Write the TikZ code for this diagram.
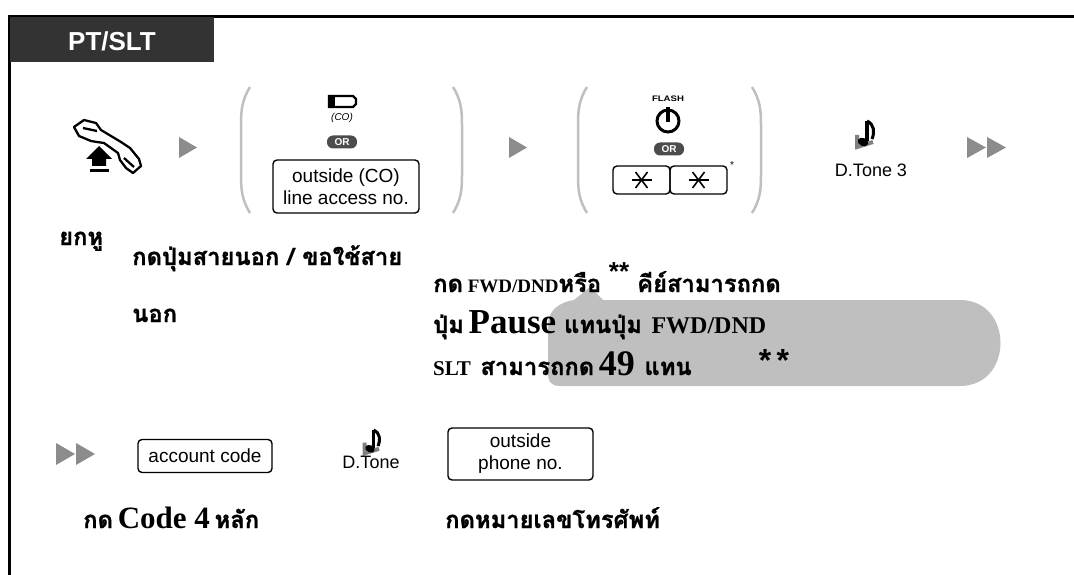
\documentclass[tikz,border=0pt]{standalone}
\usepackage{fontspec}
\setmainfont{Liberation Serif}
\setsansfont{Liberation Sans}
\newfontfamily\thai[Script=Thai,Scale=1.25,BoldFeatures={FakeBold=1}]{Loma}
\newcommand\bigtxt[2]{{\fontsize{#1}{#1}\selectfont #2}}
\begin{document}
\begin{tikzpicture}[x=1pt,y=-1pt,
  frame/.style={line width=3},
  gtri/.style={fill=black!45},
  paren/.style={draw=black!25,line width=2.5},
  keybox/.style={draw,line width=1.4,rounded corners=4,inner sep=0},
  lab/.style={font=\sffamily\fontsize{19}{22}\selectfont,align=center},
  th/.style={font=\bfseries\fontsize{19}{24}\selectfont, anchor=base west, inner sep=0},
  stars/.style={font=\sffamily\bfseries\fontsize{30}{30}\selectfont, inner sep=0},
  orpill/.style={fill=black!70, rounded corners=6, minimum width=30, minimum height=13, inner sep=0, text=white, font=\sffamily\bfseries\fontsize{10}{10}\selectfont},
  callout/.style={fill=black!25},
]
\useasboundingbox (0,0) rectangle (1074,575);

% frame and header
\draw[frame] (1074,17) -- (9.5,17) -- (9.5,575);
\fill[black!80] (9.5,17) rectangle (214,62);
\node[text=white,font=\sffamily\bfseries\fontsize{26}{26}\selectfont] (hdr) at (112,41) {PT/SLT};

% callout background
\fill[callout] (590,287) -- (603,300) -- (960,300) .. controls (1014,300) and (1014,386) .. (960,386)
  -- (560,386) .. controls (550,386) and (548,381) .. (548,371) -- (548,325)
  .. controls (548,310) and (560,302) .. (574,300) -- cycle;

% handset
\begin{scope}[line width=2.3,line join=round]
\filldraw[fill=white] (74,127) -- (84,120) -- (96,123) -- (101,130) -- (121,142) -- (130,148)
  -- (139,159) -- (141,166) -- (133,173) -- (126,168) -- (120,160) -- (118,153)
  -- (104,143) -- (97,142) -- (91,141) -- (79,136) -- cycle;
\draw (83,128) -- (97,131);
\draw (124,158) -- (134,167);
\end{scope}
\fill (99,146) -- (112,159) -- (106,159) -- (106,166) -- (92,166) -- (92,159) -- (86,159) -- cycle;
\fill (90,169) rectangle (109,172);

% first triangle
\fill[gtri] (179,137) -- (179,158) -- (197,147.5) -- cycle;

% parens group 1
\draw[paren] (250,87) .. controls (242,100) and (241,110) .. (241,125) -- (241,175) .. controls (241,190) and (242,200) .. (250,213);
\draw[paren] (453,87) .. controls (461,100) and (462,110) .. (462,125) -- (462,175) .. controls (462,190) and (461,200) .. (453,213);

% CO button
\draw[line width=2.2] (329,96) -- (353,96) -- (356,99) -- (356,104) -- (353,107) -- (329,107) -- cycle;
\fill (328,95) rectangle (335,108);
\node[font=\sffamily\itshape\fontsize{10}{10}\selectfont] (co) at (342,118) {(CO)};
\node[orpill] (or1) at (342,142) {OR};
\node[keybox,lab,minimum width=146,minimum height=53] (colan) at (346,186.5) {outside (CO)\\line access no.};

% second triangle
\fill[gtri] (509,137) -- (509,158) -- (527,147.5) -- cycle;

% parens group 2
\draw[paren] (587,87) .. controls (579,100) and (578,110) .. (578,125) -- (578,175) .. controls (578,190) and (579,200) .. (587,213);
\draw[paren] (752,87) .. controls (760,100) and (761,110) .. (761,125) -- (761,175) .. controls (761,190) and (760,200) .. (752,213);

% flash button
\node[font=\sffamily\bfseries\fontsize{8}{8}\selectfont,inner sep=0,xscale=1.2] (flash) at (668,99) {FLASH};
\draw[line width=3] (668,121) circle (11);
\draw[line width=3.5] (668,107) -- (668,122);
\node[orpill] (or2) at (669,149) {OR};
\node[keybox,minimum width=57,minimum height=28] (st1) at (641.5,180) {};
\node[keybox,minimum width=57,minimum height=28] (st2) at (698.5,180) {};
\foreach \c in {st1,st2}{
  \draw[line width=1.6] ([xshift=-10]\c.center) -- ([xshift=10]\c.center);
  \draw[line width=1.6] ([xshift=-6,yshift=-8]\c.center) -- ([xshift=6,yshift=8]\c.center);
  \draw[line width=1.6] ([xshift=6,yshift=-8]\c.center) -- ([xshift=-6,yshift=8]\c.center);
}
\node[font=\sffamily\fontsize{10}{10}\selectfont,inner sep=0] (ast) at (732,165) {*};

% tone icon 1
\begin{scope}[shift={(853,120)}]
\draw[black!50,line width=4] (4,15) -- (4,27) -- (20,22);
\fill[rotate around={-25:(10,22)}] (10,22) ellipse (5.5 and 4);
\draw[line width=3.5] (14,21) -- (14,1);
\draw[line width=3] (14,1) .. controls (21,4) and (22,12) .. (19,19);
\end{scope}
\node[lab,font=\sffamily\fontsize{18}{18}\selectfont] (dt3) at (871,170) {D.Tone 3};

% double triangle
\fill[gtri] (967,137) -- (967,158) -- (986,147.5) -- cycle;
\fill[gtri] (987,137) -- (987,158) -- (1006,147.5) -- cycle;

% Thai labels row 1
\node[th] (t1) at (59,245) {\thai ยกหู};
\node[th] (t2) at (132,265) {\thai กดปุ่มสายนอก / ขอใช้สาย};
\node[th] (t3) at (132,322) {\thai นอก};

\node[th] (c1) at (433,292) {{\thai กด} FWD/DND{\thai หรือ}};
\node[stars,font=\sffamily\bfseries\fontsize{26}{26}\selectfont] (c1s) at (619,272) {**};
\node[th] (c1b) at (637,292) {\thai คีย์สามารถกด};
\node[th] (c2) at (433,333) {{\thai ปุ่ม} \bigtxt{35}{Pause}\, {\thai แทนปุ่ม}\ \ \bigtxt{24}{FWD/DND}};
\node[th] (c3) at (433,375) {\bigtxt{21}{SLT}\ \ {\thai สามารถกด} \bigtxt{36}{49}\ \ {\thai แทน}};
\node[stars,font=\sffamily\bfseries\fontsize{32}{32}\selectfont] (c3s) at (774,360) {*\,*};

% row 2
\fill[gtri] (56,443) -- (56,465) -- (75,454) -- cycle;
\fill[gtri] (76,443) -- (76,465) -- (95,454) -- cycle;
\node[keybox,lab,minimum width=134,minimum height=33] (acc) at (205,456) {account code};
\begin{scope}[shift={(361,429)},scale=0.9]
\draw[black!50,line width=4] (4,15) -- (4,27) -- (20,22);
\fill[rotate around={-25:(10,22)}] (10,22) ellipse (5.5 and 4);
\draw[line width=3.5] (14,21) -- (14,1);
\draw[line width=3] (14,1) .. controls (21,4) and (22,12) .. (19,19);
\end{scope}
\node[lab,font=\sffamily\fontsize{18}{18}\selectfont] (dt) at (371,462) {D.Tone};
\node[keybox,lab,minimum width=145,minimum height=52] (opn) at (520.5,454) {outside\\phone no.};

\node[th] (t4) at (83,528) {{\thai กด} \bigtxt{31}{Code 4} {\thai หลัก}};
\node[th] (t5) at (445,528) {\thai กดหมายเลขโทรศัพท์};
\end{tikzpicture}
\end{document}
